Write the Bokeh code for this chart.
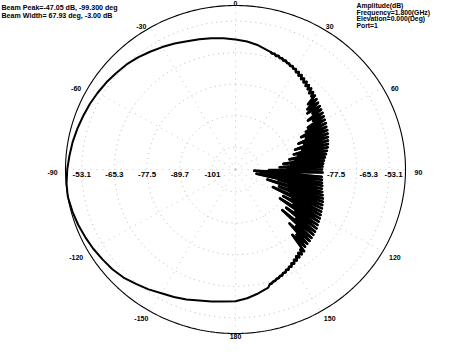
import numpy as np
from bokeh.plotting import figure
from bokeh.models import Range1d, Label
from bokeh.core.properties import value
from bokeh.embed import file_html
from bokeh.resources import INLINE

# ---------------- data ----------------
R_MIN = -110.5       # dB at the centre
R_MAX = -47.05       # dB at the outer circle (beam peak)

ring_db = [-101.9, -89.7, -77.5, -65.3, -53.1]
ring_labels_left = ["-101", "-89.7", "-77.5", "-65.3", "-53.1"]
ring_db_right = [-77.5, -65.3, -53.1]
ring_labels_right = ["-77.5", "-65.3", "-53.1"]

angle_ticks = [0, 30, 60, 90, 120, 150, 180, -150, -120, -90, -60, -30]
angle_tick_labels = ["0", "30", "60", "90", "120", "150", "180", "-150", "-120", "-90", "-60", "-30"]

# smooth part of the pattern (left half, going through the back lobe)
left_angles = [-180, -175, -170, -165, -160, -155, -150, -145, -140, -135, -130, -125,
               -120, -115, -110, -105, -100, -99.3, -95, -90, -85, -80, -75, -70, -65,
               -60, -55, -50, -45, -40, -35, -30, -25, -20, -15, -10, -5, 0, 5, 10, 15]
left_db = [-59.5, -59.2, -58.6, -58.0, -57.0, -56.1, -55.2, -53.9, -52.7, -51.4, -50.5, -49.9,
           -49.2, -48.6, -48.0, -47.5, -47.1, -47.05, -47.2, -47.7, -48.3, -48.8, -49.4, -50.0,
           -50.5, -51.1, -51.7, -52.4, -53.0, -53.9, -54.9, -55.8, -56.7, -57.7, -58.3, -58.9,
           -59.5, -60.2, -60.8, -61.7, -63.0]

# noisy part of the pattern (right side), 1 degree steps from 16 to 164
right_angles = list(range(16, 165))
right_db = [
    -63.2, -63.6, -63.4, -64.0, -63.7, -64.3, -64.1, -64.7, -64.4, -65.0,   # 16-25
    -64.9, -65.5, -65.2, -65.9, -65.6,                                      # 26-30
    -66.6, -66.0, -67.2, -66.4, -67.8, -67.0, -68.3, -67.4, -68.9, -67.9,   # 31-40
    -69.4, -68.3, -70.2, -68.8, -70.5,                                      # 41-45
    -69.3, -73.5, -69.8, -75.0, -70.3, -76.0, -70.6, -74.5, -71.0, -77.5,   # 46-55
    -71.3, -76.0, -71.7, -79.0, -72.0,                                      # 56-60
    -80.5, -72.3, -83.0, -72.8, -81.5, -73.0, -85.0, -73.4, -83.0, -73.8,   # 61-70
    -87.0, -74.2, -84.5, -74.6, -88.0,                                      # 71-75
    -75.0, -86.5, -75.6, -90.0, -76.2, -88.0, -76.8, -92.5, -77.3, -89.5,   # 76-85
    -77.7, -94.0, -78.0, -91.0, -78.2, -98.0, -78.0, -92.0, -103.5, -78.2,  # 86-95
    -93.0, -78.0, -101.0, -77.8, -92.5, -77.5, -102.5, -77.4, -94.0, -77.0, # 96-105
    -90.0, -76.5, -98.0, -76.0, -89.0, -75.6, -93.0, -75.3, -88.0, -74.9,   # 106-115
    -95.0, -74.6, -86.5, -74.2, -90.0, -73.8, -85.0, -73.5, -90.5, -73.1,   # 116-125
    -83.0, -72.6, -86.5, -72.3, -81.0, -72.0, -87.0, -71.7, -79.0, -71.4,   # 126-135
    -81.5, -71.2, -76.5, -70.9, -77.5,                                      # 136-140
    -69.8, -71.2, -69.4, -70.6, -69.0, -70.0, -68.5, -69.3, -68.0, -68.6,   # 141-150
    -67.5, -67.9, -67.0, -67.3, -66.5, -66.7, -66.0, -66.1, -65.5, -65.5,   # 151-160
    -65.0, -64.9, -64.4, -64.3,                                             # 161-164
]

tail_angles = [165, 170, 175, 180]
tail_db = [-63.2, -61.8, -60.5, -59.5]

beam_text = ["Beam Peak=-47.05 dB, -99.300 deg", "Beam Width= 67.93 deg, -3.00 dB"]
info_text = ["Amplitude(dB)", "Frequency=1.800(GHz)", "Elevation=0.000(Deg)", "Port=1"]

# ---------------- figure ----------------
W, H = 435, 339
CX, CY = 235, 169          # centre in figure pixels
SX, SY = 170, 164          # pixels per unit radius

p = figure(width=W, height=H, output_backend="svg", toolbar_location=None,
           x_range=Range1d(-CX / SX, (W - CX) / SX),
           y_range=Range1d(-(H - CY) / SY, CY / SY),
           min_border=0, background_fill_color="white", border_fill_color="white")
p.axis.visible = False
p.grid.visible = False
p.outline_line_color = None


def rad(db):
    return (np.asarray(db, dtype=float) - R_MIN) / (R_MAX - R_MIN)


def xy(ang_deg, r):
    a = np.radians(np.asarray(ang_deg, dtype=float))
    r = np.asarray(r, dtype=float)
    return r * np.sin(a), r * np.cos(a)


circ = np.linspace(0, 360, 361)

# dotted grid rings
for db in ring_db:
    x, y = xy(circ, np.full_like(circ, rad(db)))
    p.line(x, y, line_color="#a8a8a8", line_width=0.8, line_dash="1 4")
# dotted spokes
for a in angle_ticks:
    x, y = xy([a, a], [0.0, 1.0])
    p.line(x, y, line_color="#b8b8b8", line_width=0.8, line_dash="1 5")

# outer circle
x, y = xy(circ, np.ones_like(circ))
p.line(x, y, line_color="black", line_width=1.1)

# pattern trace: whole curve, then the noisy right-hand part drawn heavier
n_left = len(left_angles)
ang = np.array(left_angles + right_angles + tail_angles, dtype=float)
dbv = np.array(left_db + right_db + tail_db, dtype=float)
tx, ty = xy(ang, rad(dbv))
p.line(tx, ty, line_color="black", line_width=2.0, line_join="round")
rs = slice(n_left, n_left + len(right_angles))
p.line(tx[rs], ty[rs], line_color="black", line_width=2.6, line_join="round")

# angle labels: beside the circle, shifted outward horizontally
a = np.radians(angle_ticks)
s, c = np.sin(a), np.cos(a)
lx_px = s * SX + 13 * np.sign(s) * np.sqrt(np.abs(s))
ly_px = np.clip(c * SY + 5 * c - 3, -(H - CY) + 3.5, CY - 3)
p.text(lx_px / SX, ly_px / SY, text=angle_tick_labels, text_align="center",
       text_baseline="middle", text_font=value("Liberation Sans"), text_font_style="bold",
       text_font_size="7px", text_color="black")

# radial labels
rl = rad(ring_db)
p.text(-rl, np.full(len(rl), -5 / SY), text=ring_labels_left, text_align="center",
       text_baseline="middle", text_font=value("Liberation Sans"), text_font_style="bold",
       text_font_size="8px", text_color="black")
rr_px = np.minimum(rad(ring_db_right) * SX + 3, SX - 21)
p.text(rr_px / SX, np.full(len(rr_px), -5 / SY), text=ring_labels_right, text_align="left",
       text_baseline="middle", text_font=value("Liberation Sans"), text_font_style="bold",
       text_font_size="8px", text_color="black")

# annotations (screen units: y from bottom)
for i, t in enumerate(beam_text):
    p.add_layout(Label(x=1, y=H - 7 - 8 * i, x_units="screen", y_units="screen", text=t,
                       text_font="Liberation Sans", text_font_style="bold",
                       text_font_size="7.1px", text_baseline="middle", text_color="black"))
for i, t in enumerate(info_text):
    p.add_layout(Label(x=356, y=H - 5 - 6.5 * i, x_units="screen", y_units="screen", text=t,
                       text_font="Liberation Sans", text_font_style="bold",
                       text_font_size="6.8px", text_baseline="middle", text_color="black"))

open("out.html", "w").write(file_html(p, INLINE))
